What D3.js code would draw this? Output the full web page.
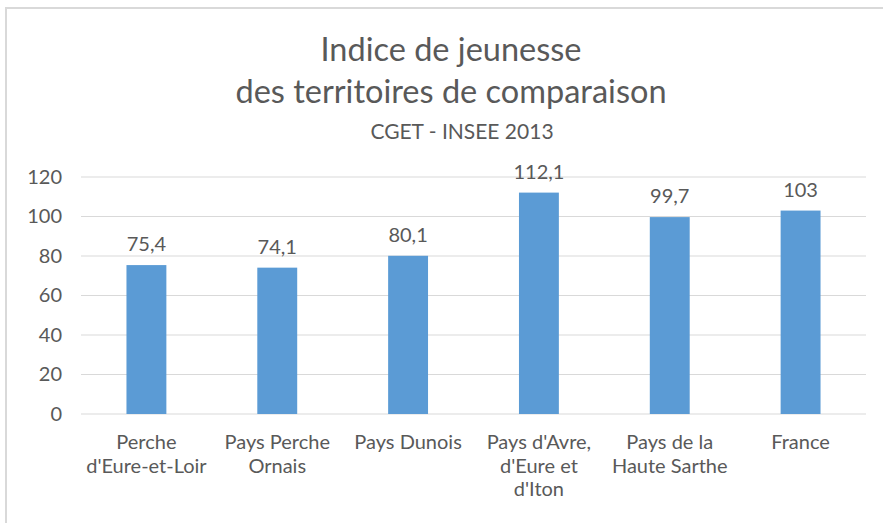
<!DOCTYPE html>
<html lang="fr">
<head>
  <meta charset="UTF-8" />
  <title>Indice de jeunesse des territoires de comparaison</title>
  <script src="https://d3js.org/d3.v7.min.js"></script>
  <style>
    body {
      margin: 0;
      background: white;
      font-family: 'Lato', 'Open Sans', sans-serif;
    }
    svg text {
      fill: #595959;
    }
  </style>
</head>
<body>
  <svg id="chart"></svg>

  <script>
    const categories = [
      ["Perche", "d'Eure-et-Loir"],
      ["Pays Perche", "Ornais"],
      ["Pays Dunois"],
      ["Pays d'Avre,", "d'Eure et", "d'Iton"],
      ["Pays de la", "Haute Sarthe"],
      ["France"]
    ];
    const values = [75.4, 74.1, 80.1, 112.1, 99.7, 103];
    const valueLabels = ["75,4", "74,1", "80,1", "112,1", "99,7", "103"];
    const yTicks = [0, 20, 40, 60, 80, 100, 120];

    const W = 883, H = 523;
    const svg = d3.select("#chart").attr("width", W).attr("height", H);

    // outer chart border (cropped on the right and bottom)
    svg.append("path")
      .attr("d", `M6,${H} L6,8 L${W},8`)
      .attr("fill", "none")
      .attr("stroke", "#d9d9d9")
      .attr("stroke-width", 2);

    const margin = { top: 177, right: 17, bottom: 109, left: 81 };
    const width = W - margin.left - margin.right;
    const height = H - margin.top - margin.bottom;
    const g = svg.append("g").attr("transform", `translate(${margin.left},${margin.top})`);

    const idx = d3.range(values.length);
    const x = d3.scaleBand().domain(idx).range([0, width]).paddingInner(0.695).paddingOuter(0.3475);
    const y = d3.scaleLinear().domain([0, 120]).range([height, 0]);

    // gridlines
    g.selectAll(".grid")
      .data(yTicks)
      .join("line")
      .attr("x1", 0)
      .attr("x2", width)
      .attr("y1", d => y(d))
      .attr("y2", d => y(d))
      .attr("stroke", "#d9d9d9")
      .attr("stroke-width", 1);

    // y axis labels
    const yAxis = g.append("g")
      .call(d3.axisLeft(y).tickValues(yTicks).tickSize(0).tickPadding(19));
    yAxis.select(".domain").remove();
    yAxis.selectAll("text")
      .attr("font-size", "20px")
      .attr("font-family", "Lato, 'Open Sans', sans-serif")
      .style("fill", "#595959");

    // bars
    g.selectAll(".bar")
      .data(idx)
      .join("rect")
      .attr("class", "bar")
      .attr("x", i => x(i))
      .attr("y", i => y(values[i]))
      .attr("width", x.bandwidth())
      .attr("height", i => height - y(values[i]))
      .attr("fill", "#5b9bd5");

    // value labels
    g.selectAll(".val")
      .data(idx)
      .join("text")
      .attr("class", "val")
      .attr("x", i => x(i) + x.bandwidth() / 2)
      .attr("y", i => y(values[i]) - 14)
      .attr("text-anchor", "middle")
      .attr("font-size", "20px")
      .text(i => valueLabels[i]);

    // category labels
    const cat = g.selectAll(".cat")
      .data(idx)
      .join("text")
      .attr("class", "cat")
      .attr("text-anchor", "middle")
      .attr("font-size", "20px")
      .attr("transform", i => `translate(${x(i) + x.bandwidth() / 2},${height + 35})`);
    cat.selectAll("tspan")
      .data(i => categories[i])
      .join("tspan")
      .attr("x", 0)
      .attr("y", (d, j) => j * 23.5)
      .text(d => d);

    // titles
    svg.append("text")
      .attr("x", 451).attr("y", 61)
      .attr("text-anchor", "middle")
      .attr("font-size", "32.5px")
      .text("Indice de jeunesse");
    svg.append("text")
      .attr("x", 451).attr("y", 103)
      .attr("text-anchor", "middle")
      .attr("font-size", "32.5px")
      .text("des territoires de comparaison");
    svg.append("text")
      .attr("x", 462).attr("y", 139)
      .attr("text-anchor", "middle")
      .attr("font-size", "21px")
      .text("CGET - INSEE 2013");
  </script>
</body>
</html>
